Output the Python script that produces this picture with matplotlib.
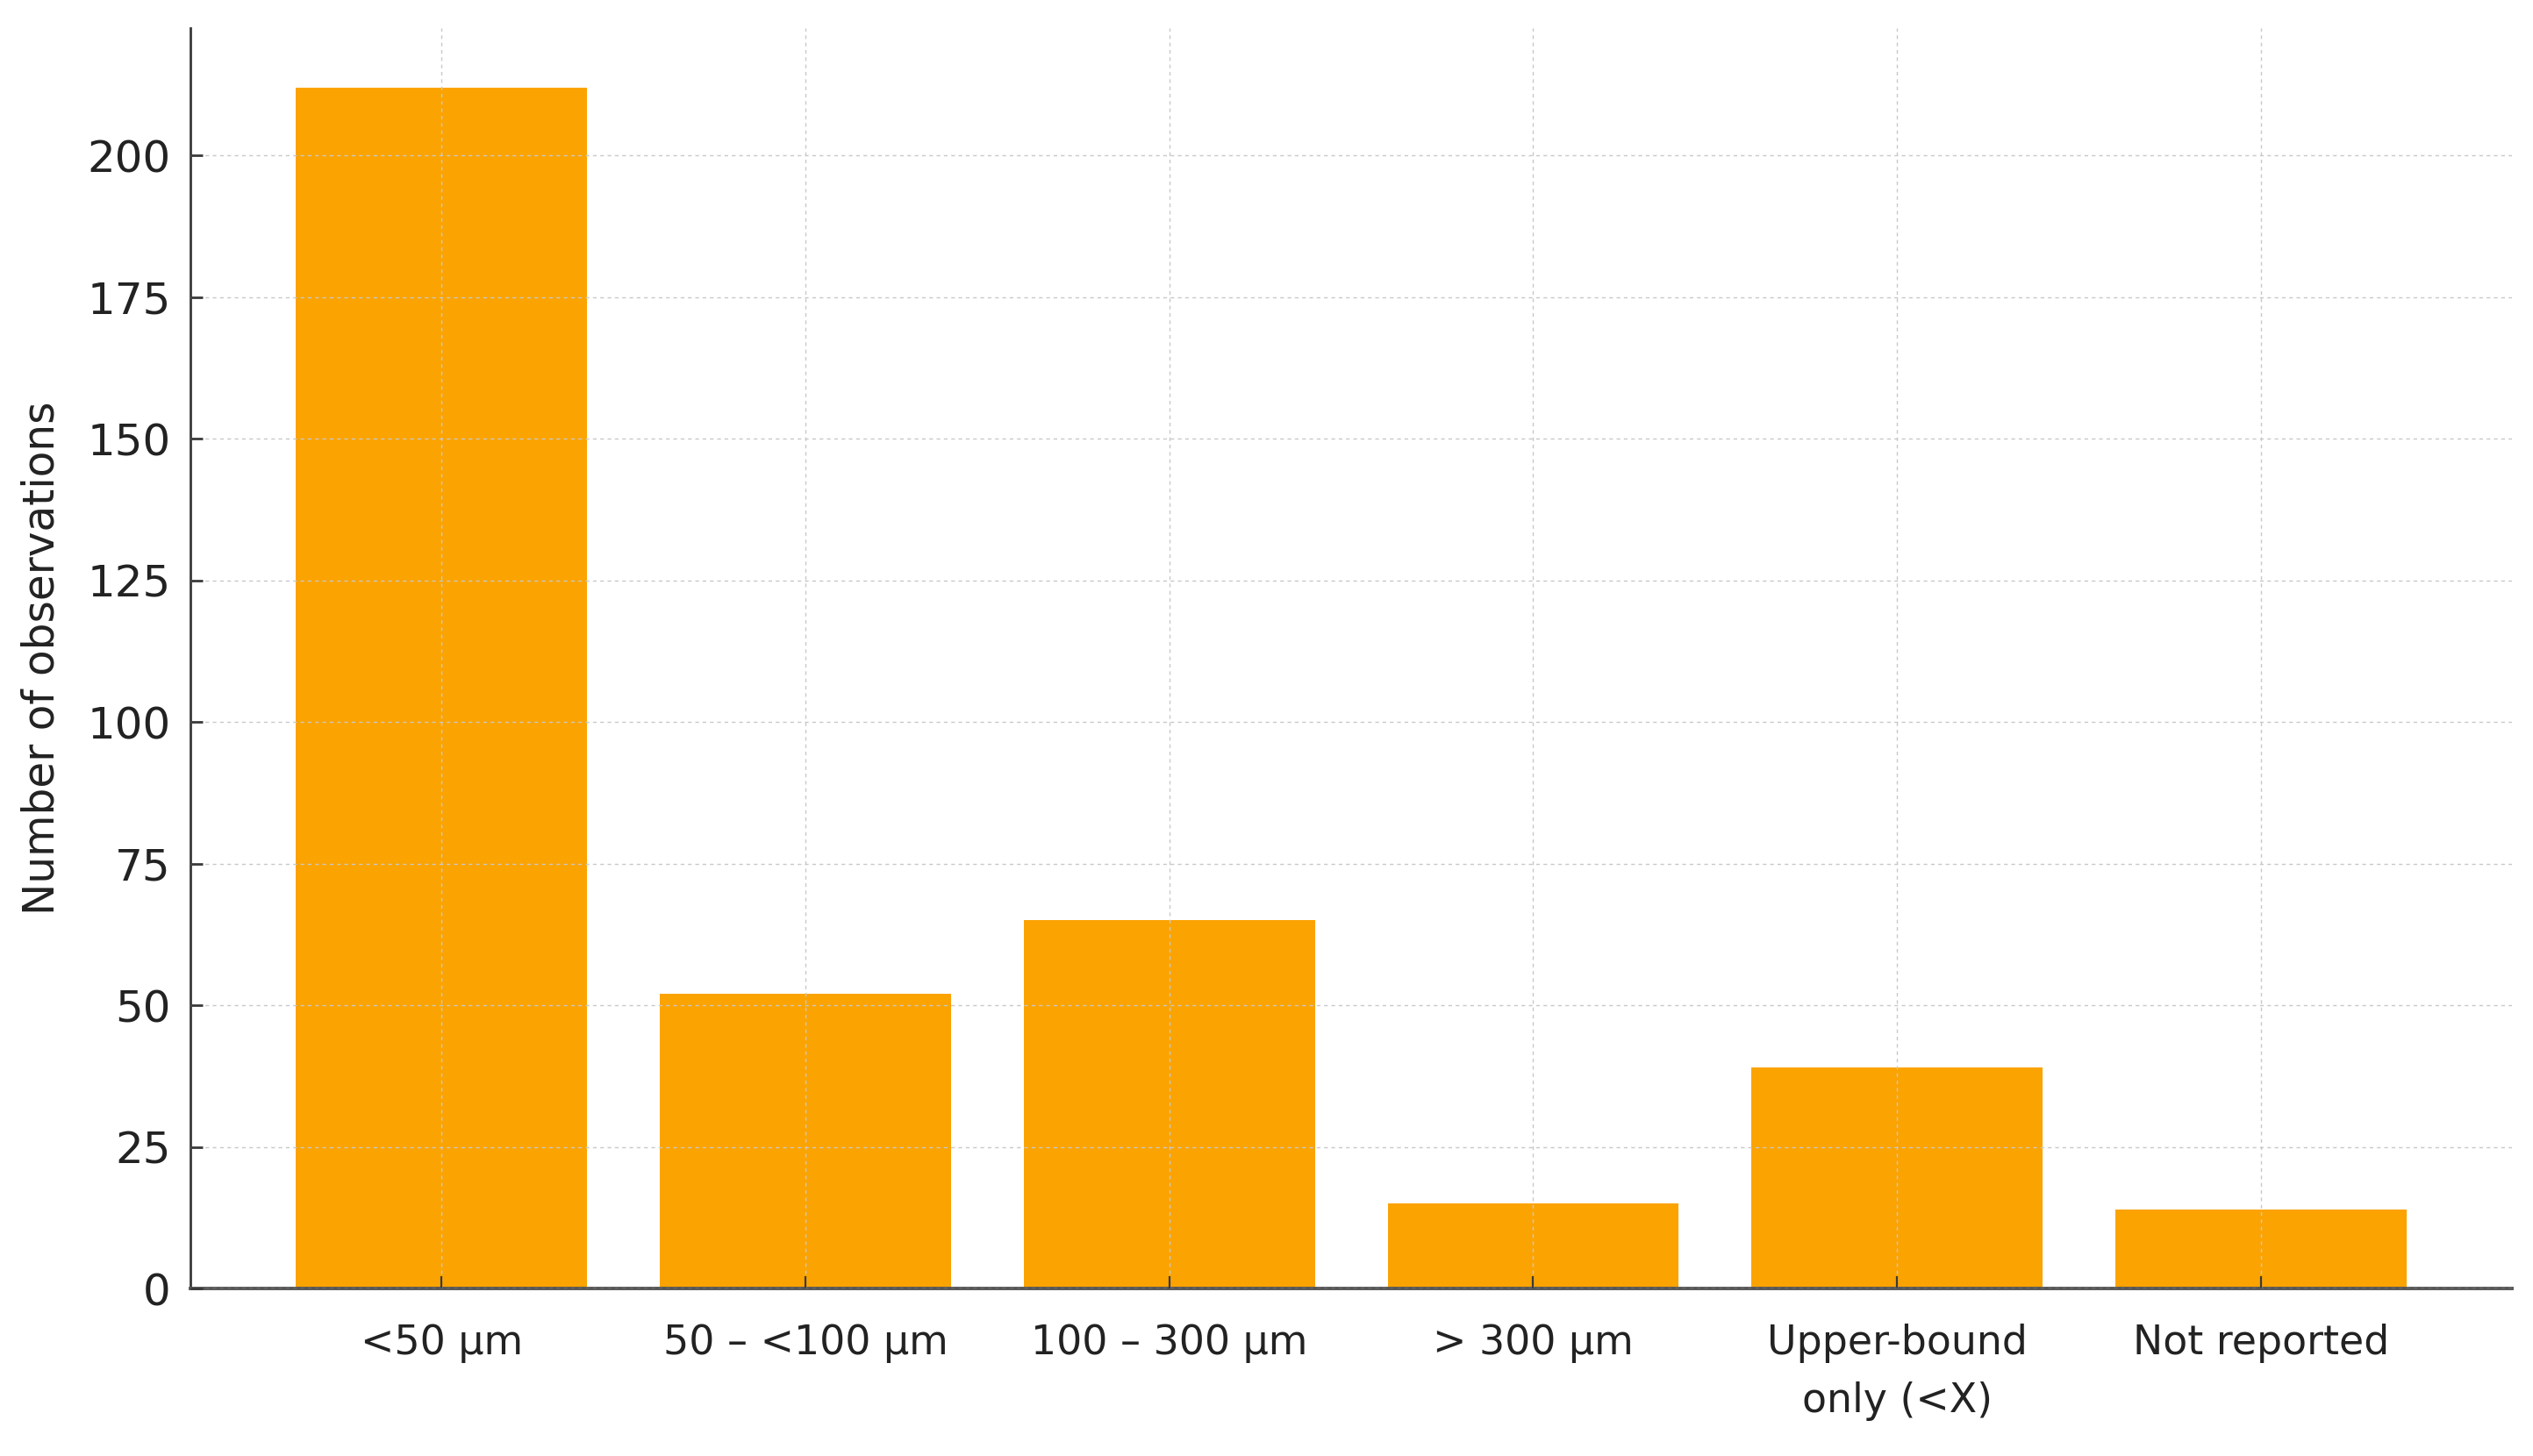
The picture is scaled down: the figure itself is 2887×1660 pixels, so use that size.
from matplotlib import pyplot as plt
import numpy as np

CATEGORIES = ['<50 µm', '50 – <100 µm', '100 – 300 µm', '> 300 µm',
              'Upper-bound\nonly (<X)', 'Not reported']
COUNTS = [212, 52, 65, 15, 39, 14]
BAR_COLOR = '#FBA300'


def draw_chart(categories, counts):
    plt.rcParams['font.family'] = ['DejaVu Sans']
    fig = plt.figure(figsize=(14.435, 8.3), dpi=200)
    ax = fig.add_axes([0.0752, 0.115, 0.9165, 0.866])

    x_indexes = np.arange(len(categories))
    ax.bar(x_indexes, counts, width=0.8, color=BAR_COLOR, zorder=1)

    ax.set_xticks(x_indexes)
    ax.set_xticklabels(categories, linespacing=1.6)
    ax.set_yticks(np.arange(0, 225, 25))
    ax.set_ylabel('Number of observations', fontsize=17.5, color='#222222', labelpad=10)

    ax.grid(True, color='#c8c8c8', linestyle=(0, (3, 3)), linewidth=0.5, zorder=3)
    ax.set_axisbelow(False)

    for side in ['top', 'right']:
        ax.spines[side].set_visible(False)
    for side in ['left', 'bottom']:
        ax.spines[side].set_color('#3a3a3a')
        ax.spines[side].set_linewidth(1.0)
    ax.spines['bottom'].set_color('#555555')
    ax.spines['bottom'].set_linewidth(1.4)

    ax.tick_params(axis='y', direction='in', length=5, width=1.0, color='#3a3a3a',
                   labelsize=18, labelcolor='#222222', pad=8)
    ax.tick_params(axis='x', direction='in', length=5, width=0.8, color='#3a3a3a',
                   labelsize=16.5, labelcolor='#222222', pad=14.5)

    fig.savefig('out.png', dpi=200, facecolor='white')


if __name__ == '__main__':
    draw_chart(CATEGORIES, COUNTS)
